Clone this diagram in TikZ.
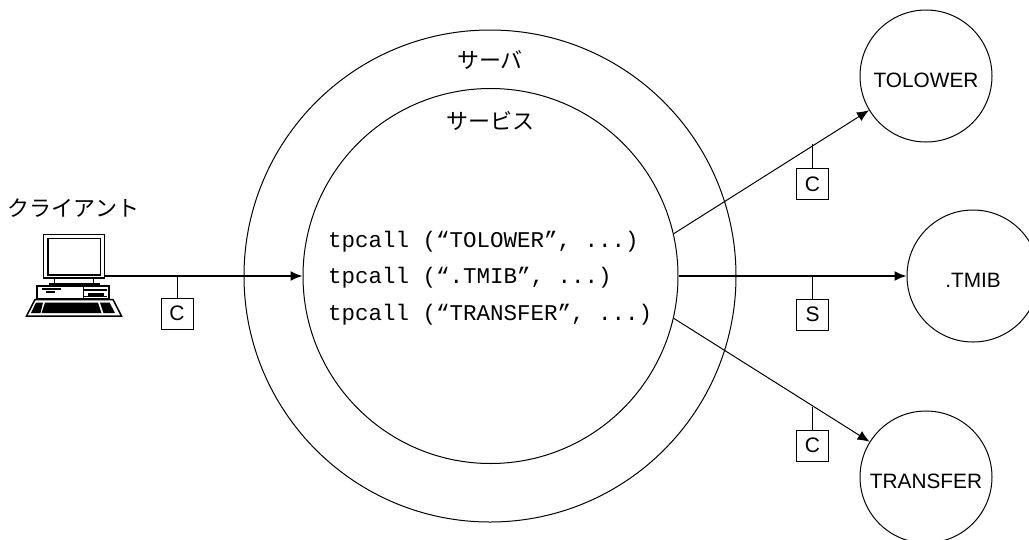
\documentclass[tikz,border=0pt]{standalone}
\usepackage{fontspec}
\setmainfont{Liberation Sans}
\setmonofont{Liberation Mono}
\newfontfamily\jp{Noto Sans CJK JP}
\usetikzlibrary{arrows.meta}
\newcommand{\lowered}[1]{\raisebox{-4.5pt}[\height][\depth]{#1}}
\tikzset{
  x=1pt,y=-1pt,
  ring/.style={circle,draw=black,line width=1pt,minimum size=#1,inner sep=0pt},
  svc/.style={ring=132pt,font=\fontsize{20.8}{24}\selectfont},
  tagbox/.style={draw=black,line width=.8pt,minimum width=32pt,minimum height=31pt,inner sep=0pt,font=\fontsize{21}{24}\selectfont},
  jplabel/.style={font=\jp\fontsize{22}{26}\selectfont,inner sep=0pt},
  code/.style={anchor=west,inner sep=0pt,font=\ttfamily\fontsize{22.5}{26}\selectfont},
  flow/.style={line width=1pt,-{Latex[length=12pt,width=10pt]}},
  flowb/.style={line width=1.5pt,-{Latex[length=12pt,width=10pt]}},
  stem/.style={line width=.8pt},
  stemb/.style={line width=1.4pt},
}
\begin{document}
\begin{tikzpicture}
\useasboundingbox (0,0) rectangle (1029,539);
\clip (0,0) rectangle (1029,539);
\fill[white] (0,0) rectangle (1029,539);
% rings
\node[ring=492pt] (server) at (490,276) {};
\node[ring=375pt] (service) at (490.5,276) {};
\node[svc] (tolower) at (926,76) {\lowered{TOLOWER}};
\node[svc] (tmib) at (973,276) {\lowered{.TMIB}};
\node[svc] (transfer) at (926,477) {\lowered{TRANSFER}};
% labels
\node[jplabel] (lserver) at (490,60) {サーバ};
\node[jplabel] (lservice) at (490,121) {サービス};
\node[jplabel] (lclient) at (73.5,208) {クライアント};
\node[code] (c1) at (328,241.5) {tpcall (“TOLOWER”, ...)};
\node[code] (c2) at (328,278) {tpcall (“.TMIB”, ...)};
\node[code] (c3) at (328,315) {tpcall (“TRANSFER”, ...)};
% computer icon
\begin{scope}[line join=miter]
\draw[line width=1.5pt,fill=white] (43.5,234.5) rectangle (104.5,278);
\draw[line width=1.3pt] (48,238.5) rectangle (100.5,275);
\draw[line width=1pt] (54,278) -- (54,283) (93,278) -- (93,283);
\fill (49,282.5) rectangle (100,285);
\draw[line width=1.3pt,fill=white] (37,286) rectangle (109,299);
\fill (42,288) rectangle (61,290);
\fill (46,291) rectangle (54.5,293);
\draw[line width=.8pt] (83,286) -- (83,299);
\fill (84,288.5) rectangle (106.5,290.5);
\fill (88,292.5) rectangle (104,295.5);
\draw[line width=.7pt] (83,296.5) -- (107,296.5);
\draw[line width=1.5pt,fill=white] (35,299.5) -- (113,299.5) -- (121.5,316) -- (26.5,316) -- cycle;
\fill (36,302.5) -- (43,302.5) -- (40.5,313) -- (31,313) -- cycle;
\fill (45,302.5) -- (98,302.5) -- (101.5,313) -- (41.5,313) -- cycle;
\fill (100,302.5) -- (109.5,302.5) -- (115,313) -- (103.5,313) -- cycle;
\end{scope}
\coordinate (pcout) at (105,276);
% connectors
\draw[flowb] (pcout) -- (service.west);
\draw[flow] (service.13.8) -- (tolower.211.5);
\draw[flowb] (service.east) -- (tmib.west);
\draw[flow] (service.-13.8) -- (transfer.148.5);
% tags
\node[tagbox] (t1) at (177,313.5) {C};
\node[tagbox] (t2) at (812.5,184) {C};
\node[tagbox] (t3) at (812.5,314.5) {S};
\node[tagbox] (t4) at (812.5,445.5) {C};
\coordinate (p1) at (177,276);
\coordinate (p2) at (812.5,144);
\coordinate (p3) at (812.5,276);
\coordinate (p4) at (812.5,407);
\draw[stem] (p1) -- (t1.north);
\draw[stemb] (p2) -- (t2.north);
\draw[stem] (p3) -- (t3.north);
\draw[stemb] (p4) -- (t4.north);
\end{tikzpicture}
\end{document}
